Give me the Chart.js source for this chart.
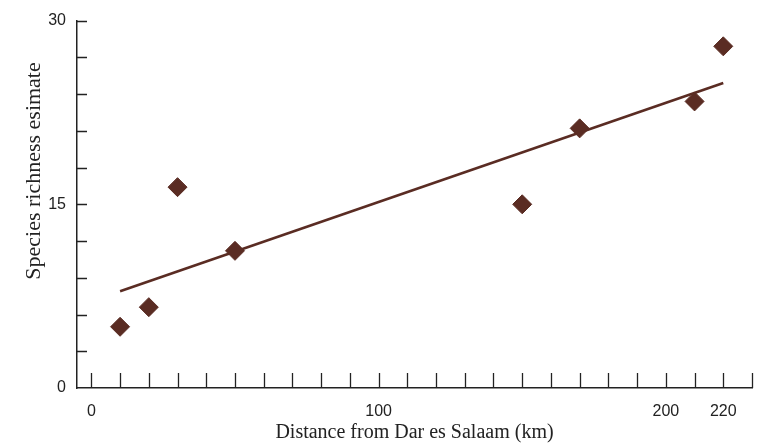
<!DOCTYPE html>
<html>
<head>
<meta charset="utf-8">
<script src="https://cdn.jsdelivr.net/npm/chart.js@4.4.0/dist/chart.umd.min.js"></script>
<style>
    html, body { margin: 0; padding: 0; background: #fff; }
    #wrap { width: 773px; height: 443px; }
</style>
</head>
<body>
<div id="wrap"><canvas id="grafico"></canvas></div>
<script>
// Distance (km) and species richness estimate for each site
const distances = [10, 20, 30, 50, 150, 170, 210, 220];
const richness = [5.0, 6.6, 16.4, 11.2, 15.0, 21.2, 23.4, 27.9];

// Trend line ends
const trendX = [10, 220];
const trendY = [7.9, 24.9];

// Axis labels and tick marks
const xLabels = [0, 100, 200, 220];
const yLabels = [0, 15, 30];
const xMarks = [0, 10, 20, 30, 40, 50, 60, 70, 80, 90, 100, 110, 120, 130, 140, 150, 160, 170, 180, 190, 200, 210, 220, 230];
const yMarks = [3, 6, 9, 12, 15, 18, 21, 24, 27, 30];

const brown = '#5a2c23';
const ink = '#222';

// Tick marks drawn inside the plot, plus the rotated y title
const insideTicks = {
    id: 'insideTicks',
    afterDraw(chart) {
        const ctx = chart.ctx;
        const x = chart.scales.x;
        const y = chart.scales.y;
        const area = chart.chartArea;

        ctx.save();
        ctx.strokeStyle = ink;
        ctx.lineWidth = 1.3;
        ctx.beginPath();
        xMarks.forEach(v => {
            const px = Math.round(x.getPixelForValue(v)) + 0.5;
            ctx.moveTo(px, area.bottom);
            ctx.lineTo(px, area.bottom - 15);
        });
        yMarks.forEach(v => {
            const py = Math.round(y.getPixelForValue(v)) + 0.5;
            ctx.moveTo(area.left, py);
            ctx.lineTo(area.left + 10, py);
        });
        ctx.stroke();

        // y axis title sits a bit above the middle in the original
        ctx.translate(34, 171);
        ctx.rotate(-Math.PI / 2);
        ctx.fillStyle = ink;
        ctx.font = '22px "Liberation Serif"';
        ctx.textAlign = 'center';
        ctx.textBaseline = 'middle';
        ctx.fillText('Species richness esimate', 0, 0);
        ctx.restore();
    }
};

const ctx = document.getElementById('grafico').getContext('2d');

new Chart(ctx, {
    type: 'scatter',
    data: {
        datasets: [
            {
                label: 'Sites',
                data: distances.map((d, i) => ({ x: d, y: richness[i] })),
                pointStyle: 'rectRot',
                pointRadius: 9.5,
                pointHoverRadius: 9.5,
                backgroundColor: brown,
                borderColor: brown,
                borderWidth: 1
            },
            {
                label: 'Trend',
                data: trendX.map((d, i) => ({ x: d, y: trendY[i] })),
                showLine: true,
                borderColor: brown,
                borderWidth: 2.6,
                pointRadius: 0,
                fill: false
            }
        ]
    },
    options: {
        responsive: true,
        maintainAspectRatio: false,
        animation: false,
        layout: {
            padding: { left: 0, right: 21, top: 19, bottom: 0 }
        },
        plugins: {
            legend: { display: false },
            tooltip: { enabled: false }
        },
        scales: {
            x: {
                type: 'linear',
                min: -5,
                max: 230,
                afterBuildTicks: scale => {
                    scale.ticks = xLabels.map(v => ({ value: v }));
                },
                afterFit: scale => { scale.height = 55; },
                grid: { display: false, drawTicks: false },
                border: { display: true, color: ink, width: 1.5 },
                ticks: {
                    padding: 14,
                    color: ink,
                    maxRotation: 0,
                    autoSkip: false,
                    font: { family: '"Liberation Sans", Arial', size: 16 }
                },
                title: {
                    display: true,
                    text: 'Distance from Dar es Salaam (km)',
                    color: ink,
                    padding: { top: 0, bottom: 0 },
                    font: { family: '"Liberation Serif"', size: 20, lineHeight: 1 }
                }
            },
            y: {
                type: 'linear',
                min: 0,
                max: 30,
                afterBuildTicks: scale => {
                    scale.ticks = yLabels.map(v => ({ value: v }));
                },
                afterFit: scale => { scale.width = 77; },
                grid: { display: false, drawTicks: false },
                border: { display: true, color: ink, width: 1.5 },
                ticks: {
                    padding: 11,
                    color: ink,
                    autoSkip: false,
                    font: { family: '"Liberation Sans", Arial', size: 16 }
                }
            }
        }
    },
    plugins: [insideTicks]
});
</script>
</body>
</html>
